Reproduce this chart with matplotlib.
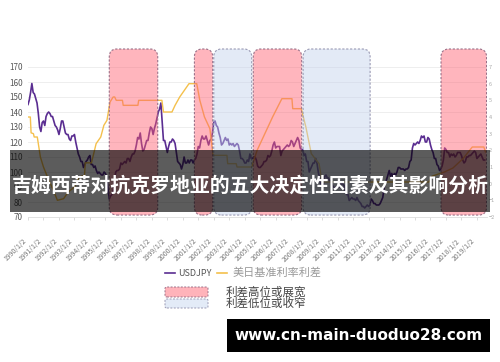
import numpy as np
import matplotlib
matplotlib.use("Agg")
import matplotlib.pyplot as plt
from matplotlib.patches import FancyBboxPatch, Rectangle
from matplotlib.lines import Line2D

plt.rcParams['font.family'] = ['Noto Sans CJK SC', 'DejaVu Sans']

# ---------------- data ----------------
start_year = 1990
# USDJPY monthly values, Jan 1990 - Jul 2019
usdjpy = [
    145, 148, 153, 159, 153, 152, 149, 146, 139, 130, 127, 133,   # 1990
    134, 131, 137, 139, 140, 139, 137, 137, 134, 131, 130, 128,   # 1991
    125, 129, 134, 134, 130, 126, 125, 125, 122, 121, 124, 124,   # 1992
    125, 120, 116, 112, 110, 107, 107, 103, 105, 107, 108, 110,   # 1993
    111, 105, 105, 103, 104, 101, 99, 100, 99, 98, 98, 100,       # 1994
    99, 97, 89, 82, 84, 85, 87, 94, 100, 101, 101, 102,           # 1995
    106, 105, 106, 107, 106, 109, 109, 107, 110, 112, 112, 114,   # 1996
    118, 123, 122, 126, 119, 114, 115, 118, 121, 121, 126, 130,   # 1997
    129, 125, 129, 132, 136, 140, 142, 146, 134, 121, 121, 117,   # 1998
    113, 117, 120, 120, 122, 121, 119, 113, 107, 106, 105, 102,   # 1999
    105, 110, 106, 106, 108, 106, 108, 108, 106, 108, 109, 112,   # 2000
    117, 116, 121, 124, 122, 122, 124, 121, 118, 121, 122, 126,   # 2001
    133, 134, 131, 130, 126, 123, 118, 119, 121, 123, 121, 122,   # 2002
    118, 119, 118, 119, 117, 118, 119, 118, 114, 109, 109, 108,   # 2003
    106, 106, 108, 107, 112, 109, 109, 110, 110, 108, 104, 103,   # 2004
    103, 104, 105, 107, 107, 108, 111, 110, 111, 114, 118, 120,   # 2005
    116, 117, 117, 117, 111, 114, 115, 116, 117, 118, 117, 118,   # 2006
    121, 120, 117, 119, 121, 123, 121, 116, 115, 115, 111, 112,   # 2007
    107, 107, 100, 102, 104, 106, 106, 109, 106, 100, 96, 91,     # 2008
    90, 92, 97, 98, 96, 96, 94, 94, 91, 90, 89, 90,               # 2009
    91, 90, 90, 93, 92, 91, 87, 85, 85, 81, 82, 83,               # 2010
    82, 82, 81, 83, 81, 80, 79, 77, 77, 76, 77, 78,               # 2011
    77, 78, 82, 81, 79, 79, 78, 78, 78, 79, 81, 83,               # 2012
    89, 93, 95, 98, 101, 97, 99, 97, 99, 98, 100, 103,            # 2013
    103, 102, 102, 102, 101, 102, 102, 103, 107, 108, 116, 119,   # 2014
    118, 119, 120, 119, 121, 124, 123, 124, 120, 120, 123, 122,   # 2015
    118, 115, 113, 109, 109, 105, 104, 101, 102, 104, 108, 116,   # 2016
    115, 113, 113, 110, 112, 111, 112, 110, 111, 113, 113, 113,   # 2017
    111, 108, 106, 107, 110, 110, 111, 111, 112, 113, 114, 113,   # 2018
    109, 110, 111, 112, 110, 108, 108,                            # 2019
]

# US-Japan policy-rate spread (%), breakpoints (year, value)
spread_years = [1990.0, 1990.15, 1990.2, 1990.35, 1990.4, 1990.6, 1990.8, 1991.0,
                1991.3, 1991.6, 1991.9, 1992.3, 1992.6, 1993.0, 1993.3, 1993.65,
                1993.7, 1994.1, 1994.4, 1994.7, 1994.9, 1995.1, 1995.3, 1995.5,
                1995.6, 1995.7, 1996.1, 1996.15, 1997.1, 1997.15, 1998.65, 1998.75,
                1999.3, 1999.5, 1999.8, 2000.1, 2000.4, 2000.9, 2001.1, 2001.4,
                2001.75, 2001.95, 2002.85, 2002.9, 2003.45, 2003.5, 2004.45, 2004.8,
                2005.3, 2005.8, 2006.4, 2007.05, 2007.1, 2007.65, 2007.95, 2008.3,
                2008.8, 2009.0, 2015.9, 2016.1, 2016.9, 2017.45, 2018.1, 2018.7,
                2019.45, 2019.55]
spread_vals = [4.0, 4.0, 3.05, 3.0, 2.8, 2.8, 1.6, 1.0,
               0.3, -0.3, -1.0, -0.9, -0.5, -0.2, 0.4, 0.5,
               1.25, 1.25, 2.4, 2.8, 3.5, 3.8, 4.9, 5.2,
               5.2, 5.0, 5.0, 4.7, 4.7, 5.0, 5.0, 4.3,
               4.3, 4.7, 5.2, 5.6, 6.0, 6.0, 5.0, 4.0,
               3.3, 1.7, 1.7, 1.2, 1.2, 1.0, 1.0, 2.0,
               3.0, 4.0, 5.1, 5.1, 4.5, 4.5, 3.4, 1.8,
               1.2, 0.1, 0.1, 0.45, 0.7, 0.94, 1.5, 2.2,
               2.2, 1.9]

high_periods = [(1995.25, 1998.38), (2000.75, 2001.93), (2004.55, 2007.68), (2016.68, 2019.62)]
low_periods = [(2002.0, 2004.45), (2007.77, 2012.1)]

tick_years = list(range(1990, 2020))
tick_labels = [f"{y}/1/2" for y in tick_years]
left_ticks = [70, 80, 90, 100, 110, 120, 130, 140, 150, 160, 170]
right_ticks = [-2, -1, 0, 1, 2, 3, 4, 5, 6, 7]

title = "吉姆西蒂对抗克罗地亚的五大决定性因素及其影响分析"
watermark = "www.cn-main-duoduo28.com"
legend_line_labels = ["USDJPY", "美日基准利率利差"]
legend_box_labels = ["利差高位或展宽", "利差低位或收窄"]

# ---------------- styling ----------------
purple = '#5a2d91'
yellow = '#f4c04c'
pink_fill = (1.0, 0.36, 0.43, 0.45)
blue_fill = (0.76, 0.82, 0.93, 0.45)
pink_edge = '#9a7088'
blue_edge = '#9a9ab4'

fig = plt.figure(figsize=(5, 3.62), dpi=100)
ax = fig.add_axes([0.056, 1 - 217 / 362, 0.918, 172.5 / 362])

x_months = start_year + np.arange(len(usdjpy)) / 12.0
ax.plot(x_months, usdjpy, color=purple, lw=1.2, zorder=3)

ylo, yhi = 70, 185
ax.set_ylim(ylo, yhi)
ax.set_xlim(1990.0, 2019.65)
ax.set_yticks(left_ticks)
ax.set_xticks(tick_years)
ax.set_xticklabels(tick_labels, rotation=45, ha='right', fontsize=5, color='#777')
ax.tick_params(axis='x', length=2.5, width=0.5, color='#ccc', pad=12)
ax.tick_params(axis='y', length=0, labelsize=5.8, labelcolor='#555', pad=4)
ax.yaxis.grid(True, color='#ebebeb', lw=0.6, zorder=0)
ax.set_axisbelow(True)
for s in ['top', 'right', 'left']:
    ax.spines[s].set_visible(False)
ax.spines['bottom'].set_color('#dddddd')
ax.spines['bottom'].set_linewidth(0.6)

ax2 = ax.twinx()
scale = 9 / 100.0
ax2.set_ylim(-2, -2 + (yhi - ylo) * scale)
ax2.plot(spread_years, spread_vals, color=yellow, lw=1.0, zorder=2)
ax2.set_yticks(right_ticks)
ax2.tick_params(axis='y', length=0, labelsize=4, labelcolor='#aaa', pad=1.5)
for s in ['top', 'right', 'left', 'bottom']:
    ax2.spines[s].set_visible(False)

box_lo, box_hi = 71.3, 182
for (a, b) in high_periods:
    p = FancyBboxPatch((a, box_lo), b - a, box_hi - box_lo,
                       boxstyle="round,pad=0,rounding_size=0.5", mutation_aspect=10.3,
                       facecolor=pink_fill, edgecolor=pink_edge, lw=0.8,
                       linestyle=(0, (2, 1.5)), transform=ax.transData, zorder=5)
    ax2.add_patch(p)
for (a, b) in low_periods:
    p = FancyBboxPatch((a, box_lo), b - a, box_hi - box_lo,
                       boxstyle="round,pad=0,rounding_size=0.5", mutation_aspect=10.3,
                       facecolor=blue_fill, edgecolor=blue_edge, lw=0.8,
                       linestyle=(0, (2, 1.5)), transform=ax.transData, zorder=5)
    ax2.add_patch(p)
ax2.set_ylim(-2, -2 + (yhi - ylo) * scale)

# ---------------- legend ----------------
def fx(px):
    return px / 500.0

def fy(py):
    return 1 - py / 362.0

fig.add_artist(Line2D([fx(165), fx(175)], [fy(273), fy(273)], color=purple, lw=1.2))
fig.text(fx(178), fy(273), legend_line_labels[0], fontsize=6.5, color='#555', va='center', ha='left')
fig.add_artist(Line2D([fx(217), fx(227)], [fy(273), fy(273)], color=yellow, lw=1.2))
fig.text(fx(233), fy(273), legend_line_labels[1], fontsize=8, color='#999', va='center', ha='left')

for (yt, yb, fc, ec, lab) in [(287, 297, (1.0, 0.70, 0.73), pink_edge, legend_box_labels[0]),
                              (299, 308, (0.89, 0.92, 0.97), blue_edge, legend_box_labels[1])]:
    r = FancyBboxPatch((fx(165), fy(yb)), fx(208) - fx(165), fy(yt) - fy(yb),
                       boxstyle="round,pad=0,rounding_size=0.004",
                       facecolor=fc, edgecolor=ec, lw=0.7, linestyle=(0, (2, 1.5)),
                       transform=fig.transFigure)
    fig.add_artist(r)
    fig.text(fx(226), fy((yt + yb) / 2), lab, fontsize=8.3, color='#444', va='center', ha='left')

# ---------------- overlays ----------------
fig.add_artist(Rectangle((fx(10), fy(212)), fx(490) - fx(10), fy(150) - fy(212),
                         transform=fig.transFigure, facecolor=(0, 0, 0, 0.64),
                         edgecolor='none', zorder=10))
fig.text(0.5, fy(185), title, fontsize=14.3, fontweight='bold', color='white',
         ha='center', va='center', zorder=11)

fig.add_artist(Rectangle((fx(227), fy(352)), fx(490) - fx(227), fy(319) - fy(352),
                         transform=fig.transFigure, facecolor='black',
                         edgecolor='none', zorder=10))
fig.text(fx(358.5), fy(335.5), watermark, fontsize=11, fontweight='bold', color='white',
         ha='center', va='center', family='DejaVu Sans', zorder=11)

fig.savefig("out.png", dpi=100)
